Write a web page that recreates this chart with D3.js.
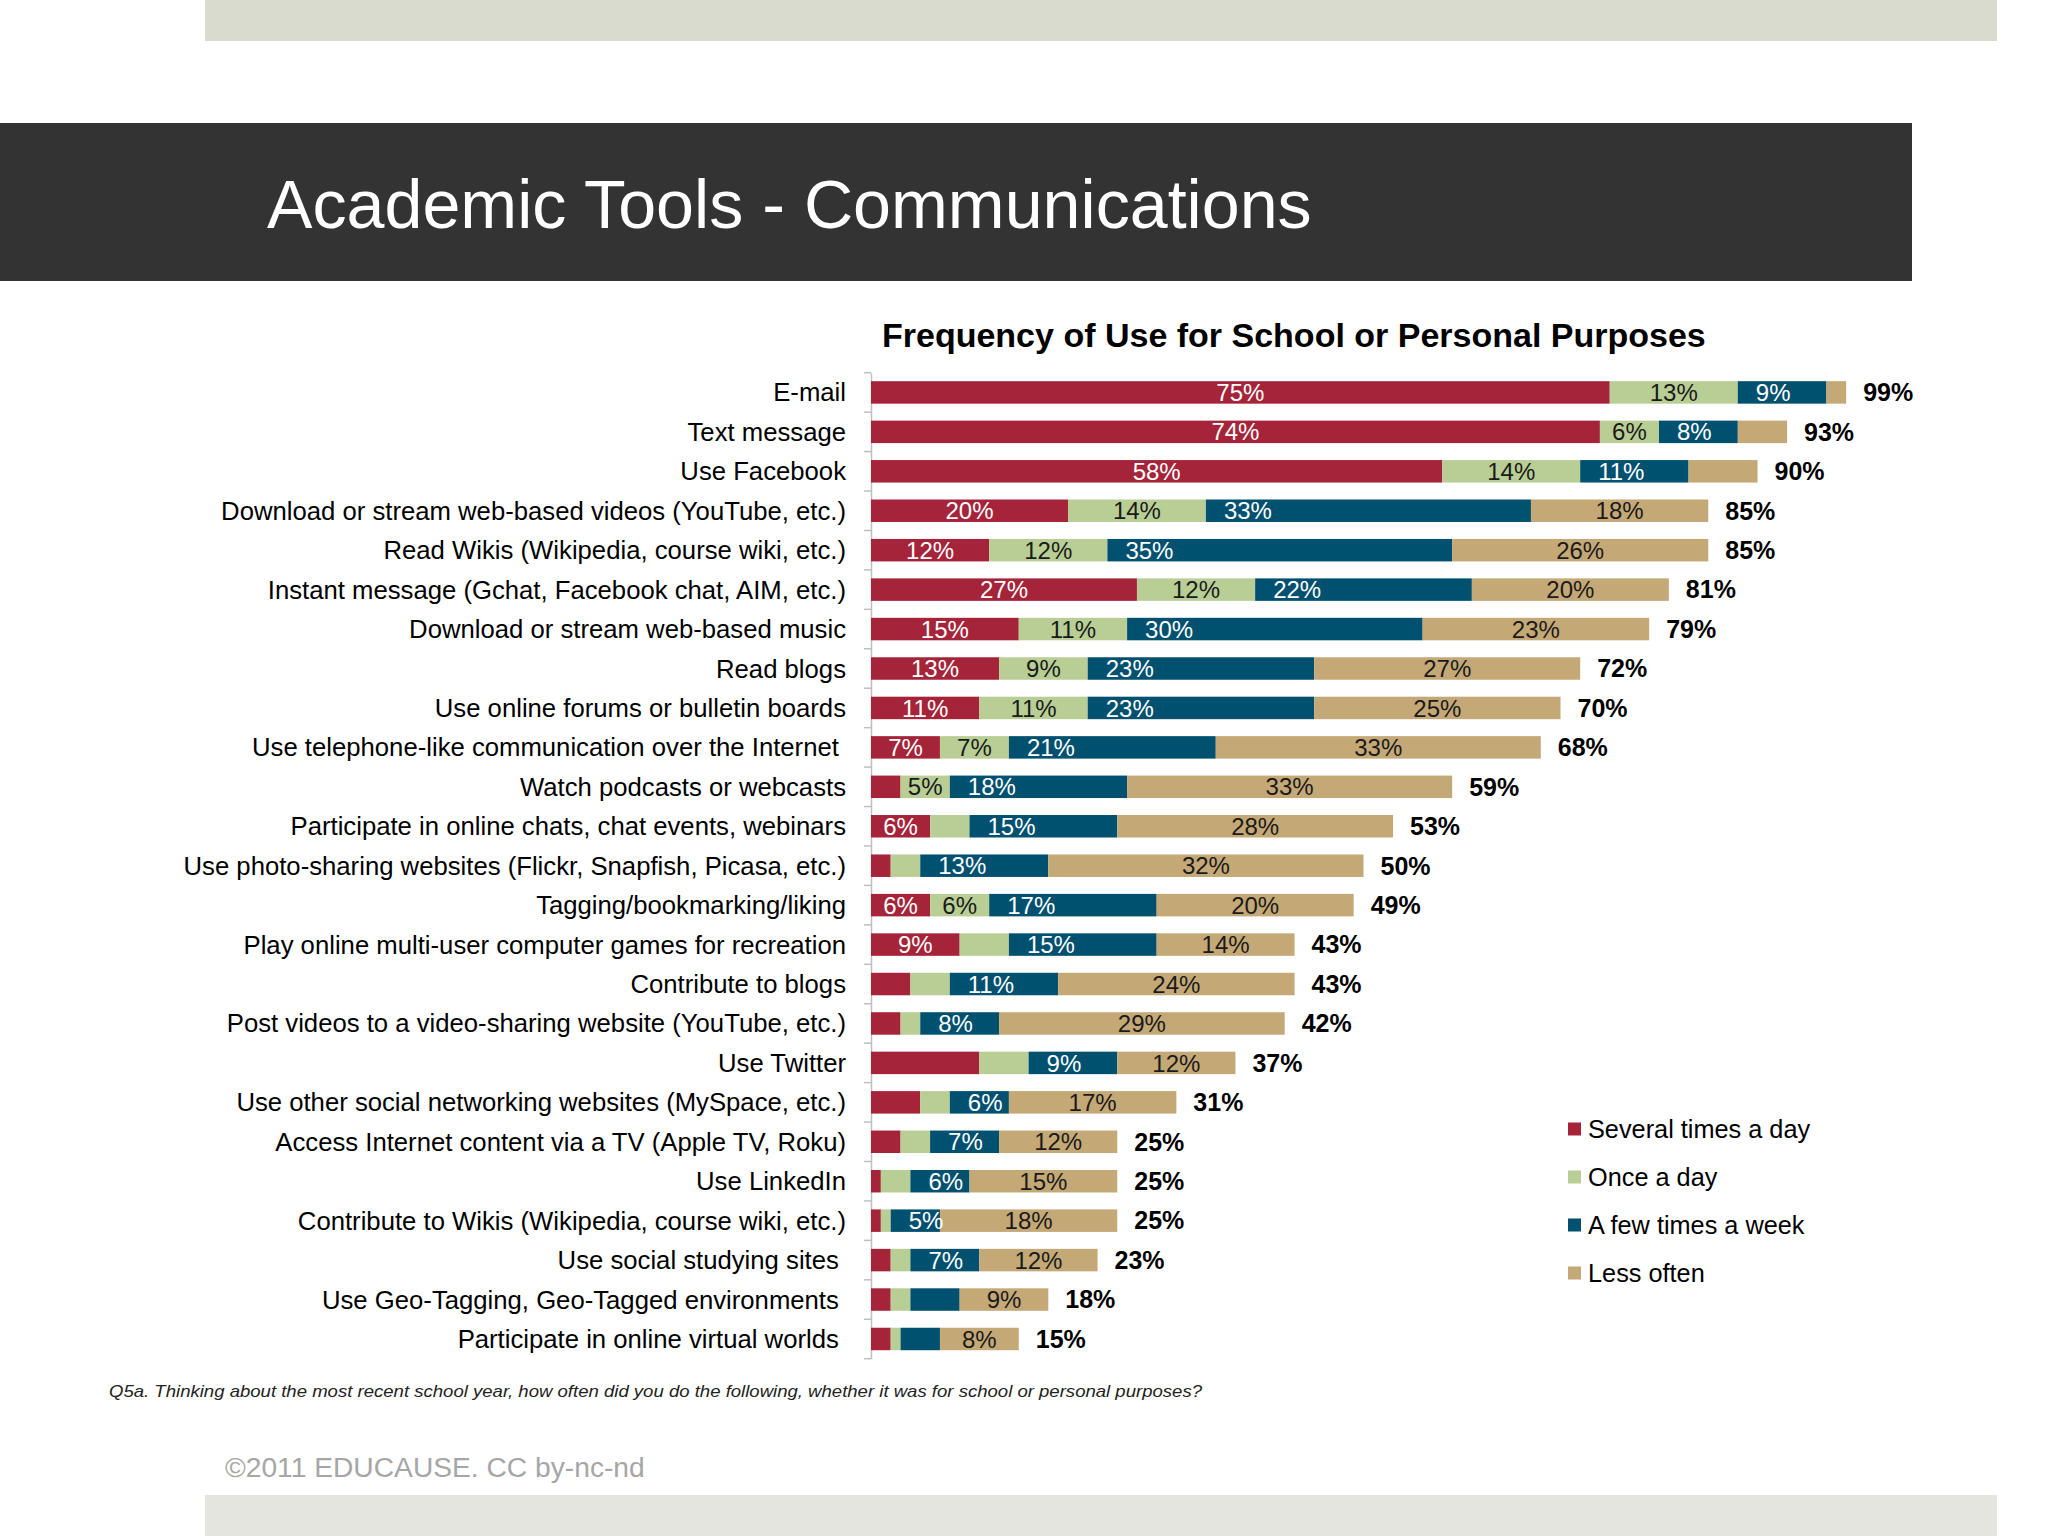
<!DOCTYPE html>
<html>
<head>
<meta charset="utf-8">
<title>Academic Tools - Communications</title>
<script src="https://cdn.jsdelivr.net/npm/d3@7"></script>
<style>
	body { margin: 0; background: #fff; overflow: hidden; }
	svg { display: block; font-family: "Liberation Sans", Arial, sans-serif; }
	.cat { white-space: pre; }
</style>
</head>
<body>
<div id="chart"></div>
<script>
const categories = [
	"E-mail",
	"Text message",
	"Use Facebook",
	"Download or stream web-based videos (YouTube, etc.)",
	"Read Wikis (Wikipedia, course wiki, etc.)",
	"Instant message (Gchat, Facebook chat, AIM, etc.)",
	"Download or stream web-based music",
	"Read blogs",
	"Use online forums or bulletin boards",
	"Use telephone-like communication over the Internet ",
	"Watch podcasts or webcasts",
	"Participate in online chats, chat events, webinars",
	"Use photo-sharing websites (Flickr, Snapfish, Picasa, etc.)",
	"Tagging/bookmarking/liking",
	"Play online multi-user computer games for recreation",
	"Contribute to blogs",
	"Post videos to a video-sharing website (YouTube, etc.)",
	"Use Twitter",
	"Use other social networking websites (MySpace, etc.)",
	"Access Internet content via a TV (Apple TV, Roku)",
	"Use LinkedIn",
	"Contribute to Wikis (Wikipedia, course wiki, etc.)",
	"Use social studying sites ",
	"Use Geo-Tagging, Geo-Tagged environments ",
	"Participate in online virtual worlds "
];

const severalTimesADay = [75, 74, 58, 20, 12, 27, 15, 13, 11, 7, 3, 6, 2, 6, 9, 4, 3, 11, 5, 3, 1, 1, 2, 2, 2];
const onceADay         = [13, 6, 14, 14, 12, 12, 11, 9, 11, 7, 5, 4, 3, 6, 5, 4, 2, 5, 3, 3, 3, 1, 2, 2, 1];
const fewTimesAWeek    = [9, 8, 11, 33, 35, 22, 30, 23, 23, 21, 18, 15, 13, 17, 15, 11, 8, 9, 6, 7, 6, 5, 7, 5, 4];
const lessOften        = [2, 5, 7, 18, 26, 20, 23, 27, 25, 33, 33, 28, 32, 20, 14, 24, 29, 12, 17, 12, 15, 18, 12, 9, 8];
const totals           = [99, 93, 90, 85, 85, 81, 79, 72, 70, 68, 59, 53, 50, 49, 43, 43, 42, 37, 31, 25, 25, 25, 23, 18, 15];

const seriesNames = ["Several times a day", "Once a day", "A few times a week", "Less often"];
const seriesColors = ["#A5243A", "#B8CE95", "#00506F", "#C4A876"];
const labelColors = ["#fff", "#1a1a1a", "#fff", "#1a1a1a"];

// segments that carry no value label on the slide: [row, series]
const hiddenLabels = [[0, 3], [1, 3], [2, 3], [14, 1], [17, 0], [17, 1], [18, 0], [23, 2]];

const W = 2048, H = 1536;
const svg = d3.select("#chart").append("svg")
	.attr("width", W)
	.attr("height", H);

// slide frame
svg.append("rect").attr("x", 205).attr("y", 0).attr("width", 1792).attr("height", 41).attr("fill", "#D9DBCF");
svg.append("rect").attr("x", 0).attr("y", 123).attr("width", 1912).attr("height", 158).attr("fill", "#333333");
svg.append("rect").attr("x", 205).attr("y", 1495).attr("width", 1792).attr("height", 41).attr("fill", "#E4E5DF");

svg.append("text")
	.attr("x", 267).attr("y", 228)
	.attr("fill", "#fff")
	.style("font-size", "68.2px")
	.text("Academic Tools - Communications");

svg.append("text")
	.attr("x", 882).attr("y", 347)
	.attr("fill", "#000")
	.style("font-size", "34px")
	.style("font-weight", "bold")
	.text("Frequency of Use for School or Personal Purposes");

// scales
const x = d3.scaleLinear().domain([0, 100]).range([871, 1856]);
const y = d3.scaleBand().domain(categories).range([372.7, 1358.7]).paddingInner(0.43).paddingOuter(0.215);

const series = [severalTimesADay, onceADay, fewTimesAWeek, lessOften];
const rows = categories.map((c, i) => {
	let acc = 0;
	const segs = series.map((s, k) => {
		const seg = {cat: c, row: i, k: k, v: s[i], x0: acc, x1: acc + s[i]};
		acc += s[i];
		return seg;
	});
	return {cat: c, row: i, total: totals[i], end: acc, segs: segs};
});

const isHidden = (d) => hiddenLabels.some(h => h[0] == d.row && h[1] == d.k);

// axis: vertical line with ticks between categories
const axisG = svg.append("g").attr("class", "axis y")
	.attr("transform", `translate(${x(0)},0)`)
	.call(d3.axisLeft(y).tickSize(0).tickFormat(""));
axisG.select(".domain").attr("stroke", "#BFBFBF").attr("stroke-width", 1.5);
axisG.selectAll(".tick").remove();
axisG.selectAll(".sep")
	.data(d3.range(categories.length + 1))
	.enter().append("line")
	.attr("class", "sep")
	.attr("x1", -7).attr("x2", 0)
	.attr("y1", i => y.range()[0] + i * y.step())
	.attr("y2", i => y.range()[0] + i * y.step())
	.attr("stroke", "#BFBFBF")
	.attr("stroke-width", 1.5);

// category labels
svg.append("g").selectAll(".cat")
	.data(categories)
	.enter().append("text")
	.attr("class", "cat")
	.attr("x", 846)
	.attr("y", d => y(d) + y.bandwidth() / 2 + 9)
	.attr("text-anchor", "end")
	.attr("fill", "#000")
	.style("font-size", "25.7px")
	.text(d => d);

// bars
const rowG = svg.append("g").selectAll(".row")
	.data(rows)
	.enter().append("g")
	.attr("class", "row")
	.attr("transform", d => `translate(0,${y(d.cat)})`);

rowG.selectAll(".bar")
	.data(d => d.segs)
	.enter().append("rect")
	.attr("class", "bar")
	.attr("x", d => x(d.x0))
	.attr("width", d => x(d.x1) - x(d.x0))
	.attr("y", 0)
	.attr("height", y.bandwidth())
	.attr("fill", d => seriesColors[d.k]);

rowG.selectAll(".val")
	.data(d => d.segs.filter(s => s.v >= 5 && !isHidden(s)))
	.enter().append("text")
	.attr("class", "val")
	.attr("x", d => d.k == 2 ? x(d.x0) + 18 : (x(d.x0) + x(d.x1)) / 2)
	.attr("y", y.bandwidth() / 2 + 8.6)
	.attr("text-anchor", d => d.k == 2 ? "start" : "middle")
	.attr("fill", d => labelColors[d.k])
	.style("font-size", "24px")
	.text(d => d.v + "%");

rowG.append("text")
	.attr("class", "total")
	.attr("x", d => x(d.end) + 17)
	.attr("y", y.bandwidth() / 2 + 8.8)
	.attr("fill", "#000")
	.style("font-size", "25px")
	.style("font-weight", "bold")
	.text(d => d.total + "%");

// legend
const legend = svg.append("g").attr("class", "legend")
	.attr("transform", "translate(1568,1129)");
const item = legend.selectAll(".item")
	.data(seriesNames)
	.enter().append("g")
	.attr("class", "item")
	.attr("transform", (d, i) => `translate(0,${i * 48})`);
item.append("rect")
	.attr("x", 0).attr("y", -6.5)
	.attr("width", 13).attr("height", 13)
	.attr("fill", (d, i) => seriesColors[i]);
item.append("text")
	.attr("x", 20).attr("y", 8.5)
	.attr("fill", "#000")
	.style("font-size", "25.3px")
	.text(d => d);

// footnote + credit
svg.append("text")
	.attr("x", 109).attr("y", 1397)
	.attr("fill", "#222")
	.attr("textLength", 1093)
	.attr("lengthAdjust", "spacingAndGlyphs")
	.style("font-size", "16.5px")
	.style("font-style", "italic")
	.text("Q5a. Thinking about the most recent school year, how often did you do the following, whether it was for school or personal purposes?");

svg.append("text")
	.attr("x", 225).attr("y", 1477)
	.attr("fill", "#A6A6A6")
	.style("font-size", "28.2px")
	.text("©2011 EDUCAUSE. CC by-nc-nd");
</script>
</body>
</html>
